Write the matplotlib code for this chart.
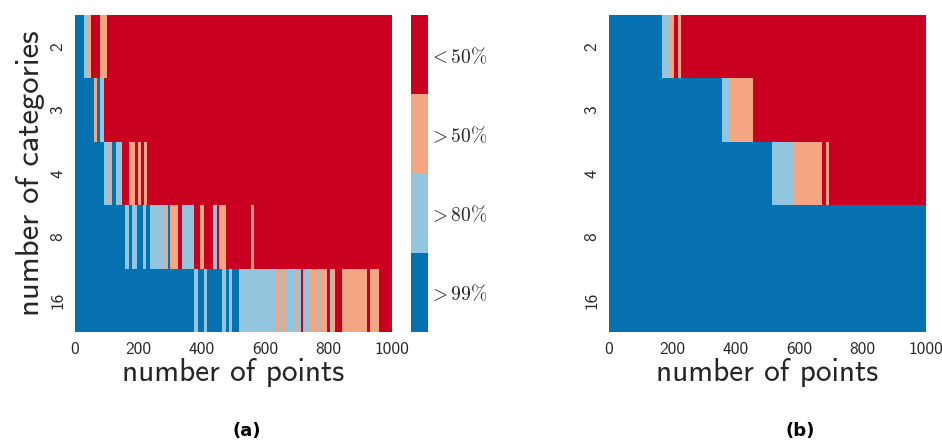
import numpy as np
import matplotlib
matplotlib.use("Agg")
import matplotlib.pyplot as plt
from matplotlib.colors import ListedColormap, BoundaryNorm

# ---------------- DATA ----------------
categories = ["2", "3", "4", "8", "16"]
x_ticks = [0, 200, 400, 600, 800, 1000]
n_points = 1000

# accuracy levels: 0 -> >99%, 1 -> >80%, 2 -> >50%, 3 -> <50%
level_labels = [r"$>99\%$", r"$>80\%$", r"$>50\%$", r"$<50\%$"]
level_colors = ["#0571b0", "#92c5de", "#f4a582", "#ca0020"]

# panel (a): run edges (number of points) and level of each run, per row
a_edges_2 = [0, 30, 39, 50, 79, 100, 1000]
a_levels_2 = [0, 1, 2, 3, 2, 3]
a_edges_3 = [0, 60, 68, 79, 91, 1000]
a_levels_3 = [0, 2, 0, 1, 3]
a_edges_4 = [0, 91, 108, 118, 128, 148, 170, 188, 198, 209, 218, 227, 1000]
a_levels_4 = [0, 1, 2, 0, 1, 3, 2, 3, 2, 3, 2, 3]
a_edges_8 = [0, 158, 169, 179, 197, 216, 224, 236, 277, 288, 294, 299, 326,
             337, 376, 395, 407, 434, 447, 455, 476, 556, 565, 1000]
a_levels_8 = [0, 1, 0, 1, 0, 1, 0, 1, 2, 1, 0, 2, 3,
              1, 3, 2, 3, 1, 3, 2, 3, 2, 3]
a_edges_16 = [0, 376, 387, 408, 415, 465, 475, 486, 494, 517, 634, 645, 652,
              663, 693, 702, 712, 720, 741, 762, 773, 794, 803, 808, 821,
              842, 920, 931, 960, 1000]
a_levels_16 = [0, 1, 0, 1, 0, 1, 0, 1, 0, 1, 2, 1, 2,
               1, 2, 1, 3, 1, 2, 1, 2, 3, 1, 2, 3,
               2, 3, 2, 3]

# panel (b)
b_edges_2 = [0, 167, 189, 206, 219, 227, 1000]
b_levels_2 = [0, 1, 2, 3, 2, 3]
b_edges_3 = [0, 355, 378, 455, 1000]
b_levels_3 = [0, 1, 2, 3]
b_edges_4 = [0, 514, 583, 671, 683, 693, 1000]
b_levels_4 = [0, 1, 2, 3, 2, 3]
b_edges_8 = [0, 1000]
b_levels_8 = [0]
b_edges_16 = [0, 1000]
b_levels_16 = [0]


def build_grid(rows):
    grid = np.zeros((len(rows), n_points))
    for i, (edges, levels) in enumerate(rows):
        grid[i] = np.repeat(levels, np.diff(edges))
    return grid


grid_a = build_grid([(a_edges_2, a_levels_2), (a_edges_3, a_levels_3),
                     (a_edges_4, a_levels_4), (a_edges_8, a_levels_8),
                     (a_edges_16, a_levels_16)])
grid_b = build_grid([(b_edges_2, b_levels_2), (b_edges_3, b_levels_3),
                     (b_edges_4, b_levels_4), (b_edges_8, b_levels_8),
                     (b_edges_16, b_levels_16)])

# ---------------- STYLE ----------------
# cmss10 ships with matplotlib (LaTeX sans serif look)
plt.rcParams["font.family"] = ["cmss10", "DejaVu Sans"]
plt.rcParams["mathtext.fontset"] = "cm"
plt.rcParams["axes.unicode_minus"] = False
text_color = "0.15"

cmap = ListedColormap(level_colors)
norm = BoundaryNorm([0, 1, 2, 3, 4], cmap.N)

fig = plt.figure(figsize=(9.42, 4.43), dpi=100)
ax_a = fig.add_axes([0.0796, 0.2506, 0.3365, 0.7156])
cax = fig.add_axes([0.4363, 0.2506, 0.018, 0.7156])
ax_b = fig.add_axes([0.6465, 0.2506, 0.3365, 0.7156])

x_edges = np.arange(n_points + 1)
y_edges = np.arange(len(categories) + 1)

for ax, grid in [(ax_a, grid_a), (ax_b, grid_b)]:
    mesh = ax.pcolormesh(x_edges, y_edges, grid, cmap=cmap, norm=norm,
                         shading="flat", rasterized=True)
    ax.set_xlim(0, n_points)
    ax.set_ylim(len(categories), 0)
    ax.set_xticks(x_ticks)
    ax.set_xticklabels([str(t) for t in x_ticks])
    ax.set_yticks(np.arange(len(categories)) + 0.5)
    ax.set_yticklabels(categories, rotation=90, va="center")
    ax.tick_params(length=0, labelsize=12.5, colors=text_color, pad=7)
    for s in ax.spines.values():
        s.set_visible(False)
    ax.set_xlabel("number of points", fontsize=22.5, color=text_color,
                  labelpad=1)

ax_a.set_ylabel("number of categories", fontsize=23.5, color=text_color,
                labelpad=4)

cb = fig.colorbar(mesh, cax=cax, ticks=[0.5, 1.5, 2.5, 3.5])
cb.minorticks_off()
cb.ax.set_yticklabels(level_labels)
cb.ax.tick_params(which="both", length=0, labelsize=14, colors=text_color,
                  pad=1)
cb.outline.set_visible(False)

fig.text(0.262, 0.015, "(a)", ha="center", fontsize=13, fontweight="bold",
         color="black", family="DejaVu Sans")
fig.text(0.849, 0.015, "(b)", ha="center", fontsize=13, fontweight="bold",
         color="black", family="DejaVu Sans")

fig.savefig("out.png", dpi=100)
